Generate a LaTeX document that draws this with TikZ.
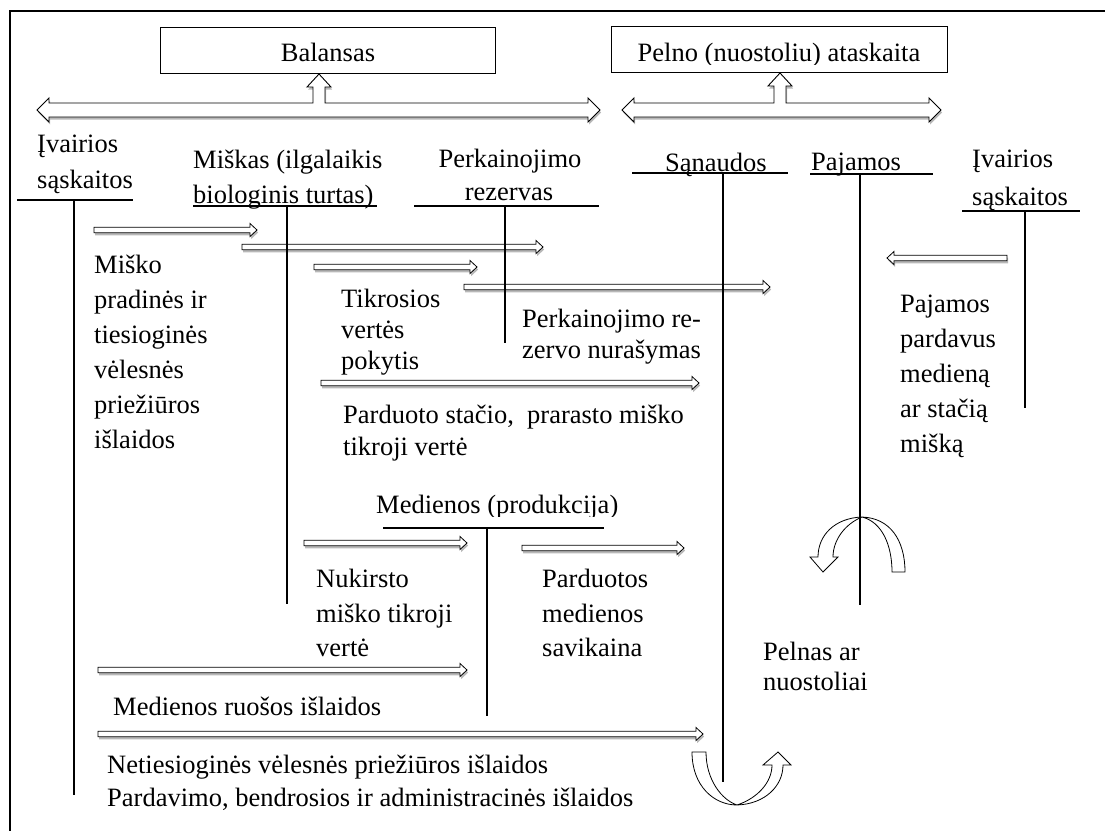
\documentclass[tikz,border=0pt]{standalone}
\usepackage{fontspec}
\setmainfont{Liberation Serif}
\usetikzlibrary{calc,shadows}
\tikzset{
  shd/.style={drop shadow={shadow xshift=1.2pt, shadow yshift=-2.5pt, opacity=0.28, fill=black}},
  rarr/.style={draw=black, line width=0.8pt, fill=white, shd,
    to path={let \p1=(\tikztostart), \p2=(\tikztotarget) in
      (\x1,\y1+2.8pt) -- (\x2-7pt,\y1+2.8pt) -- (\x2-7pt,\y1+6.5pt) -- (\x2,\y1)
      -- (\x2-7pt,\y1-6.5pt) -- (\x2-7pt,\y1-2.8pt) -- (\x1,\y1-2.8pt) -- cycle}},
  larr/.style={draw=black, line width=0.8pt, fill=white, shd,
    to path={let \p1=(\tikztostart), \p2=(\tikztotarget) in
      (\x1,\y1+2.8pt) -- (\x2+7pt,\y1+2.8pt) -- (\x2+7pt,\y1+6.5pt) -- (\x2,\y1)
      -- (\x2+7pt,\y1-6.5pt) -- (\x2+7pt,\y1-2.8pt) -- (\x1,\y1-2.8pt) -- cycle}},
  bigarr/.style={draw=black, line width=0.9pt, fill=white, line join=miter, shd},
  uarr/.style={draw=black, line width=0.8pt, fill=white},
  tline/.style={draw=black, line width=1.3pt},
  titlebox/.style={draw=black, line width=1pt, inner sep=0pt, minimum height=46pt},
  txt/.style={anchor=base west, inner sep=0pt, font=\fontsize{26.5}{32}\selectfont},
  ctxt/.style={anchor=base, inner sep=0pt, font=\fontsize{26.5}{32}\selectfont},
}
\begin{document}
\begin{tikzpicture}[x=1pt,y=-1pt]
\useasboundingbox (0,0) rectangle (1105,830);
\clip (0,0) rectangle (1105,830);
\fill[white] (0,0) rectangle (1105,830);
% frame
\draw[line width=2pt] (10,11) rectangle (1125,850);

% title boxes
\node[titlebox, minimum width=335pt] (bal) at (327.5,50) {};
\node[titlebox, minimum width=336pt] (pnl) at (779,49) {};
\node[ctxt] (baltxt) at (328,61) {Balansas};
\begin{scope}
  \clip (611,27) rectangle (947,64);
  \node[ctxt] (pnltxt) at (779,61) {Pelno (nuostoliu) ataskaita};
\end{scope}

% big T arrows
\draw[bigarr] (37,110) -- (49,98) -- (49,103) -- (313,103) -- (313,87) -- (307,87) -- (319,74) -- (331,87) -- (325,87) -- (325,103) -- (588,103) -- (588,98) -- (600,110) -- (588,122) -- (588,117) -- (49,117) -- (49,122) -- cycle;
\draw[bigarr] (622,110) -- (634,98) -- (634,103) -- (774,103) -- (774,86) -- (768,86) -- (780,73) -- (792,86) -- (786,86) -- (786,103) -- (929,103) -- (929,98) -- (941,110) -- (929,122) -- (929,117) -- (634,117) -- (634,122) -- cycle;

% account headings
\node[txt] (iv1a) at (37,152) {Įvairios};
\node[txt] (iv1b) at (37,188) {sąskaitos};
\node[txt] (mk1) at (193,168) {Miškas (ilgalaikis};
\node[txt] (mk2) at (193,203) {biologinis turtas)};
\node[ctxt] (pr1) at (510,167) {Perkainojimo};
\node[ctxt] (pr2) at (509,200) {rezervas};
\node[txt] (san) at (665,171) {Sąnaudos};
\node[txt] (paj) at (811,170) {Pajamos};
\node[txt] (iv2a) at (972,167) {Įvairios};
\node[txt] (iv2b) at (972,205) {sąskaitos};
\begin{scope}
  \clip (360,480) rectangle (640,516);
  \node[txt] (med) at (376,513) {Medienos (produkcija)};
\end{scope}

% thin arrows
\coordinate (a1s) at (94,230);  \coordinate (a1e) at (257,230);
\coordinate (a2s) at (242,247); \coordinate (a2e) at (543,247);
\coordinate (a3s) at (314,267); \coordinate (a3e) at (477,267);
\coordinate (a4s) at (464,287); \coordinate (a4e) at (770,287);
\coordinate (a5s) at (321,383); \coordinate (a5e) at (699,383);
\coordinate (a6s) at (304,543); \coordinate (a6e) at (467,543);
\coordinate (a7s) at (522,548); \coordinate (a7e) at (684,548);
\coordinate (a8s) at (98,670);  \coordinate (a8e) at (467,670);
\coordinate (a9s) at (98,734);  \coordinate (a9e) at (703,734);
\coordinate (a10s) at (1007,258); \coordinate (a10e) at (887,258);
\draw[rarr] (a1s) to (a1e);
\draw[rarr] (a2s) to (a2e);
\draw[rarr] (a3s) to (a3e);
\draw[rarr] (a4s) to (a4e);
\draw[rarr] (a5s) to (a5e);
\draw[rarr] (a6s) to (a6e);
\draw[rarr] (a7s) to (a7e);
\draw[rarr] (a8s) to (a8e);
\draw[rarr] (a9s) to (a9e);
\draw[larr] (a10s) to (a10e);

% U-turn arrows
\draw[uarr] (692,752) -- (706,752) .. controls (706,780) and (722,800) .. (737,805) .. controls (758,798) and (772,782) .. (772,765) -- (763,765) -- (778,752) -- (791,765) -- (783,765) .. controls (783,786) and (765,804) .. (737,805) .. controls (714,805) and (692,786) .. (692,752) -- cycle;
\draw[uarr] (905,572) -- (892,572) .. controls (892,545) and (882,522) .. (862,517) .. controls (845,524) and (833,540) .. (833,557) -- (838,557) -- (823,572) -- (810,557) -- (818,557) .. controls (818,535) and (835,518) .. (862,517) .. controls (890,518) and (905,540) .. (905,572) -- cycle;

% T accounts
\draw[tline] (17,200) -- (133,200);   \draw[tline] (74,200) -- (74,795);
\draw[tline] (193,206) -- (377,206);  \draw[tline] (287,206) -- (287,604);
\draw[tline] (414,206) -- (599,206);  \draw[tline] (505,206) -- (505,343);
\draw[tline] (632,173) -- (788,173);  \draw[tline] (723,173) -- (723,782);
\draw[tline] (810,174) -- (933,174);  \draw[tline] (860,174) -- (860,605);
\draw[tline] (962,211) -- (1080,211); \draw[tline] (1025,211) -- (1025,408);
\draw[tline] (383,528) -- (604,528);  \draw[tline] (487,528) -- (487,716);

% labels
\node[txt] (l1a) at (94,273) {Miško};
\node[txt] (l1b) at (94,308) {pradinės ir};
\node[txt] (l1c) at (94,343) {tiesioginės};
\node[txt] (l1d) at (94,378) {vėlesnės};
\node[txt] (l1e) at (94,413) {priežiūros};
\node[txt] (l1f) at (94,448) {išlaidos};

\node[txt] (l2a) at (341,307) {Tikrosios};
\node[txt] (l2b) at (341,338) {vertės};
\node[txt] (l2c) at (341,369) {pokytis};

\node[txt] (l3a) at (522,327) {Perkainojimo re-};
\node[txt] (l3b) at (522,358) {zervo nurašymas};

\node[txt] (l4a) at (343,423) {Parduoto stačio,\ \ prarasto miško};
\node[txt] (l4b) at (343,455) {tikroji vertė};

\node[txt] (l5a) at (900,312) {Pajamos};
\node[txt] (l5b) at (900,347) {pardavus};
\node[txt] (l5c) at (900,382) {medieną};
\node[txt] (l5d) at (900,417) {ar stačią};
\node[txt] (l5e) at (900,452) {mišką};

\node[txt] (l6a) at (316,587) {Nukirsto};
\node[txt] (l6b) at (316,622) {miško tikroji};
\node[txt] (l6c) at (316,656) {vertė};

\node[txt] (l7a) at (542,587) {Parduotos};
\node[txt] (l7b) at (542,622) {medienos};
\node[txt] (l7c) at (542,656) {savikaina};

\node[txt] (l8a) at (763,660) {Pelnas ar};
\node[txt] (l8b) at (763,690) {nuostoliai};

\node[txt] (l9) at (113,715) {Medienos ruošos išlaidos};
\node[txt] (l10) at (107,773) {Netiesioginės vėlesnės priežiūros išlaidos};
\node[txt] (l11) at (107,806) {Pardavimo, bendrosios ir administracinės išlaidos};
\end{tikzpicture}
\end{document}
